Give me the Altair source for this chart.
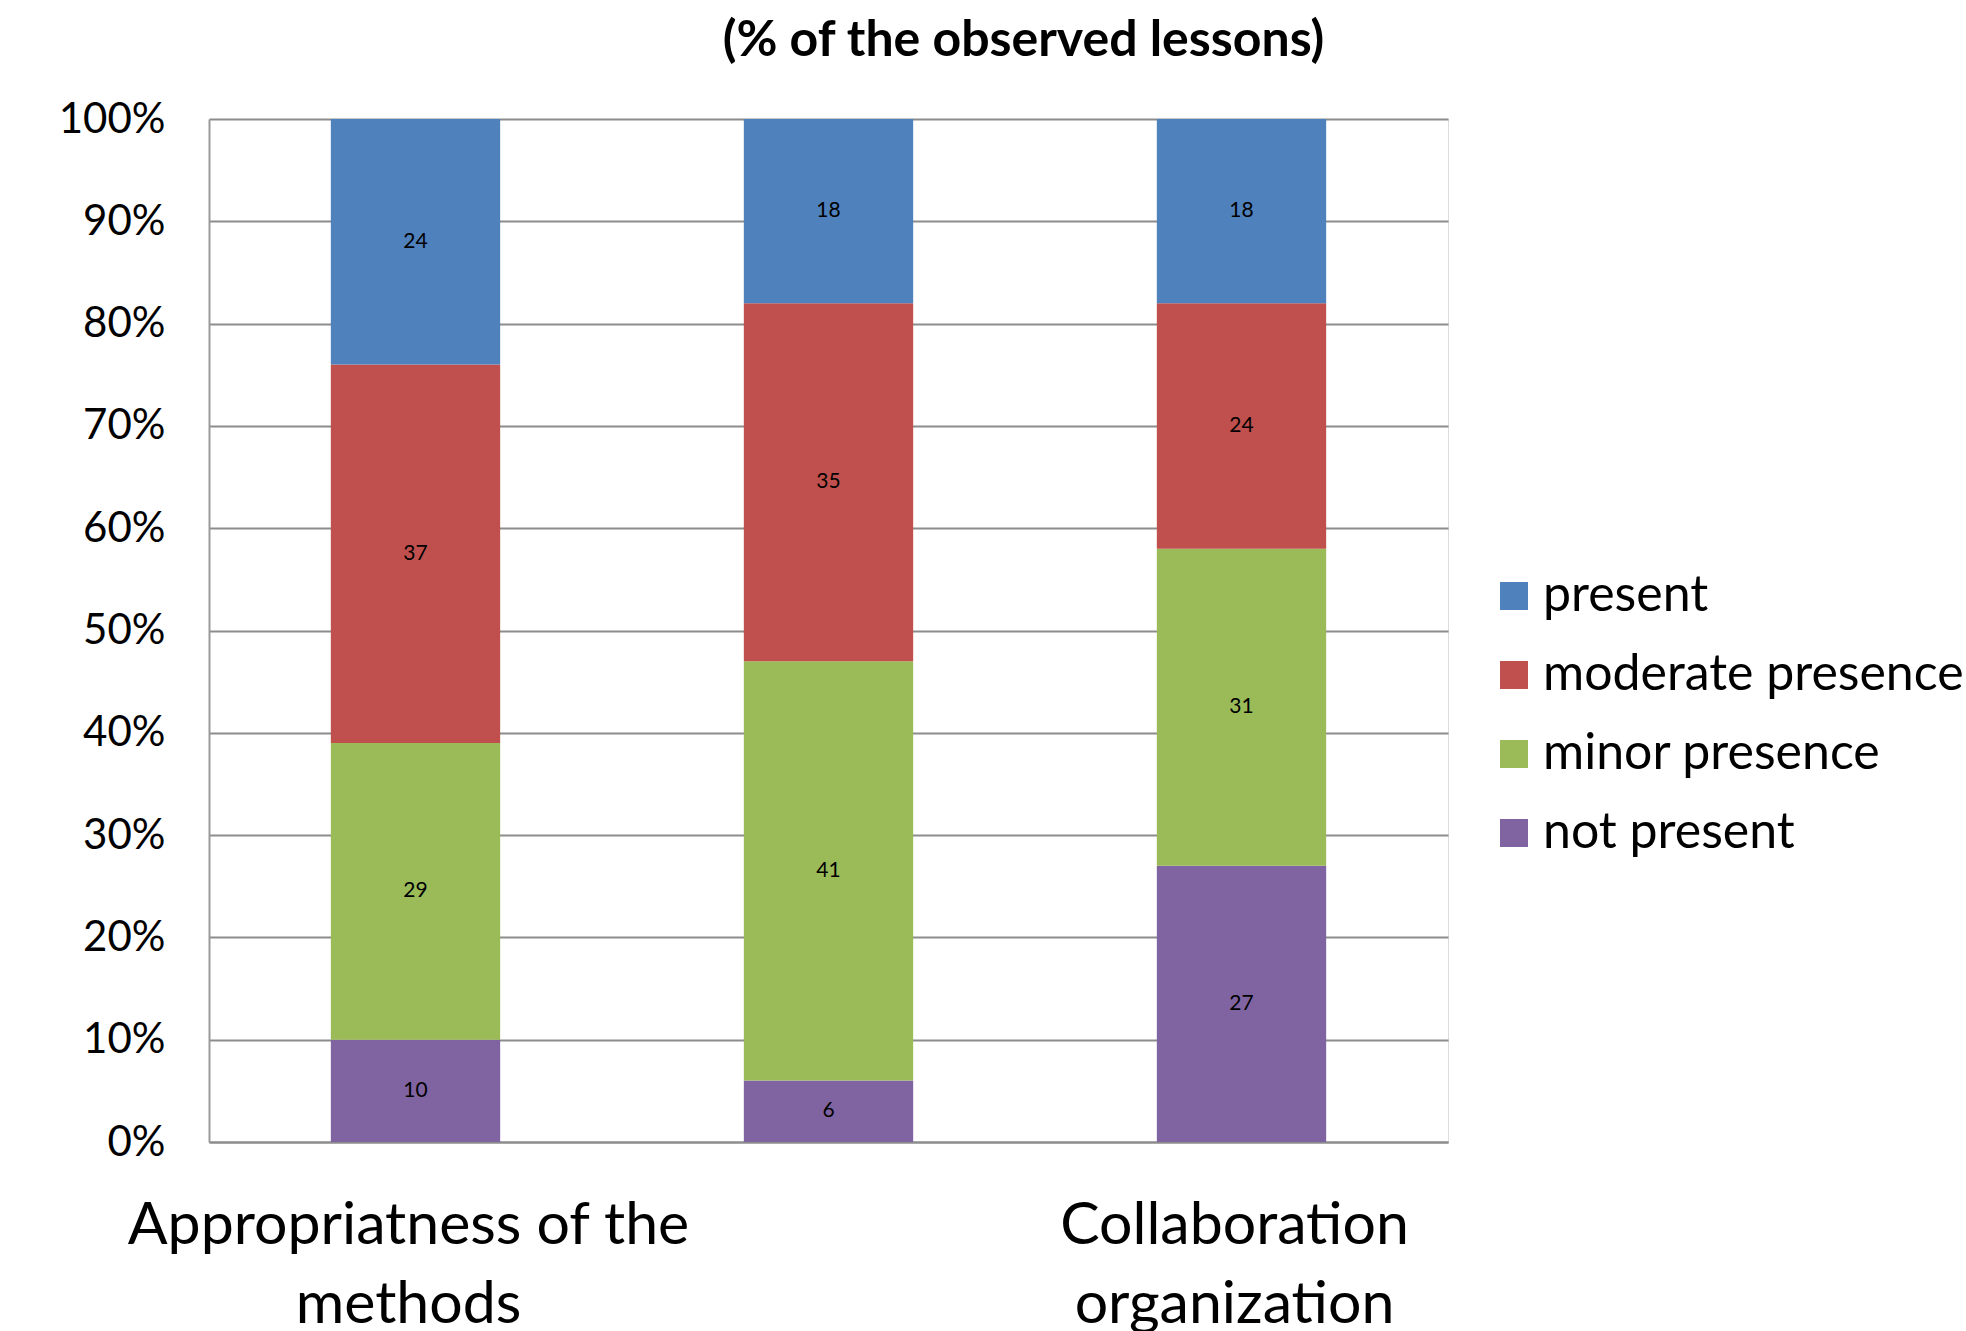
import altair as alt
import pandas as pd

categories = ["Appropriatness of the methods", "Teaching methods", "Collaboration organization"]
series = ["present", "moderate presence", "minor presence", "not present"]
colors = ["#4F81BD", "#C0504D", "#9BBB59", "#8064A2"]
present = [24, 18, 18]
moderate = [37, 35, 24]
minor = [29, 41, 31]
not_present = [10, 6, 27]

rows = []
for i, c in enumerate(categories):
    for s, vals, order in [("not present", not_present, 0), ("minor presence", minor, 1),
                           ("moderate presence", moderate, 2), ("present", present, 3)]:
        rows.append({"category": c, "series": s, "value": vals[i] / 100, "label": str(vals[i]), "order": order})
df = pd.DataFrame(rows)

FONT = "Lato"

label_expr = ("datum.value == 'Appropriatness of the methods' ? ['Appropriatness of the', 'methods'] : "
              "datum.value == 'Collaboration organization' ? ['Collaboration', 'organization'] : ''")

x = alt.X("category:N", sort=categories, title=None,
          scale=alt.Scale(paddingInner=0.59, paddingOuter=0.295),
          axis=alt.Axis(labelExpr=label_expr, labelAngle=0, labelFontSize=59, labelFont=FONT,
                        labelLineHeight=79, labelPadding=54, labelLimit=1000, labelOffset=-7,
                        ticks=False, domain=True,
                        domainColor="#8c8c8c", domainWidth=2, labelColor="#000000"))

bars = alt.Chart(df).mark_bar().encode(
    x=x,
    y=alt.Y("value:Q", stack="zero", title=None,
            scale=alt.Scale(domain=[0, 1]),
            axis=alt.Axis(format="0%", values=[i / 10 for i in range(11)], labelFontSize=42,
                          labelFont=FONT, labelColor="#000000", labelPadding=44, ticks=False,
                          grid=True, gridColor="#8c8c8c", gridWidth=2, domainColor="#9a9a9a",
                          domainWidth=2)),
    color=alt.Color("series:N", scale=alt.Scale(domain=series, range=colors),
                    legend=alt.Legend(title=None, orient="none", legendX=1280, legendY=452,
                                      symbolType="square", symbolSize=784, symbolStrokeWidth=0,
                                      labelFontSize=50, labelFont=FONT, labelColor="#000000",
                                      rowPadding=29, labelOffset=4, labelLimit=700)),
    order=alt.Order("order:Q", sort="ascending"),
)

texts = alt.Chart(df).transform_stack(
    stack="value", groupby=["category"], as_=["v0", "v1"], sort=[alt.SortField("order", "ascending")]
).transform_calculate(mid="(datum.v0 + datum.v1) / 2").mark_text(
    fontSize=21, font=FONT, color="#000000", baseline="middle"
).encode(
    x=alt.X("category:N", sort=categories),
    y=alt.Y("mid:Q"),
    text="label:N",
)

chart = alt.layer(bars, texts).properties(
    width=1239, height=1023,
    title=alt.TitleParams("(% of the observed lessons)", fontSize=50, font=FONT, fontWeight="bold",
                          color="#000000", anchor="middle", dx=195, offset=32),
    autosize=alt.AutoSizeParams(type="none"),
    padding={"left": 209, "top": 119, "right": 518, "bottom": 189},
).configure_view(stroke=None).configure(background="white")

chart.save("out.html", embed_options={"renderer": "svg", "actions": False})
